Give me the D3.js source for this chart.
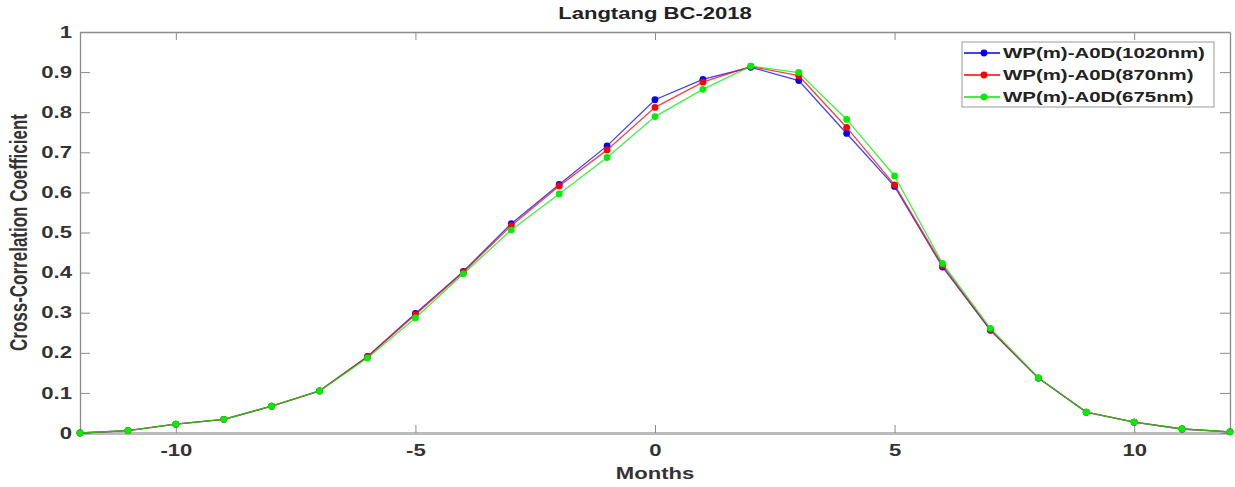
<!DOCTYPE html>
<html>
<head>
<meta charset="utf-8">
<script src="https://cdn.jsdelivr.net/npm/d3@7"></script>
<style>
  body { margin: 0; background: #fff; }
  text { font-family: "Liberation Sans", Arial, sans-serif; font-weight: bold; }
</style>
</head>
<body>
<script>
// lags in months
var months = [-12, -11, -10, -9, -8, -7, -6, -5, -4, -3, -2, -1, 0, 1, 2, 3, 4, 5, 6, 7, 8, 9, 10, 11, 12];

// cross-correlation, one array per wavelength
var aod1020 = [0, 0.006, 0.022, 0.034, 0.067, 0.105, 0.191, 0.298, 0.403, 0.522, 0.620, 0.716, 0.831, 0.882, 0.912, 0.879, 0.747, 0.615, 0.414, 0.256, 0.137, 0.052, 0.027, 0.010, 0.003];
var aod870  = [0, 0.006, 0.022, 0.034, 0.067, 0.105, 0.190, 0.295, 0.401, 0.517, 0.616, 0.706, 0.812, 0.875, 0.914, 0.891, 0.762, 0.619, 0.418, 0.258, 0.137, 0.052, 0.027, 0.010, 0.003];
var aod675  = [0, 0.006, 0.022, 0.034, 0.067, 0.105, 0.187, 0.287, 0.397, 0.506, 0.596, 0.687, 0.789, 0.857, 0.915, 0.899, 0.782, 0.641, 0.423, 0.261, 0.138, 0.052, 0.027, 0.010, 0.003];

var seriesNames = ["WP(m)-A0D(1020nm)", "WP(m)-A0D(870nm)", "WP(m)-A0D(675nm)"];
var seriesColors = ["#0000ff", "#ff0000", "#00ee00"];

var xTicks = [-10, -5, 0, 5, 10];
var yTicks = [0, 0.1, 0.2, 0.3, 0.4, 0.5, 0.6, 0.7, 0.8, 0.9, 1];

var width = 1235, height = 487;
var margin = {left: 80, right: 5, top: 32, bottom: 54};
var stretch = 1.38; // the original picture is wider than tall, text looks stretched

var svg = d3.select("body").append("svg")
    .attr("width", width)
    .attr("height", height);

var x = d3.scaleLinear()
    .domain([-12, 12])
    .range([margin.left, width - margin.right]);

var y = d3.scaleLinear()
    .domain([0, 1])
    .range([height - margin.bottom, margin.top]);

var axisColor = "#8c8c8c";
var labelColor = "#333";

// box with inward ticks, matlab style
function styleAxis(g) {
    g.selectAll(".domain").attr("stroke", axisColor).attr("stroke-width", 1.3);
    g.selectAll(".tick line").attr("stroke", axisColor);
    g.selectAll(".tick text")
        .attr("fill", labelColor)
        .style("font-size", "16px")
        .each(function () {
            var t = d3.select(this);
            var tx = +t.attr("x") || 0, ty = +t.attr("y") || 0;
            t.attr("x", 0).attr("y", 0)
                .attr("transform", "translate(" + tx + "," + ty + ") scale(" + stretch + ",1)");
        });
}

function stretchedText(px, py, str, size, anchor) {
    return svg.append("text")
        .attr("transform", "translate(" + px + "," + py + ") scale(" + stretch + ",1)")
        .attr("text-anchor", anchor || "middle")
        .attr("fill", labelColor)
        .style("font-size", size + "px")
        .text(str);
}

var xAxis = svg.append("g")
    .attr("transform", "translate(0," + y(0) + ")")
    .call(d3.axisBottom(x).tickValues(xTicks).tickSizeInner(-8).tickSizeOuter(0).tickPadding(12)
        .tickFormat(function (d) { return String(d); }));
styleAxis(xAxis);
xAxis.select(".domain").attr("stroke", "#bbb").attr("stroke-width", 3);

var xAxisTop = svg.append("g")
    .attr("transform", "translate(0," + y(1) + ")")
    .call(d3.axisTop(x).tickValues(xTicks).tickSizeInner(-8).tickSizeOuter(0).tickFormat(""));
styleAxis(xAxisTop);

var yAxis = svg.append("g")
    .attr("transform", "translate(" + x(-12) + ",0)")
    .call(d3.axisLeft(y).tickValues(yTicks).tickSizeInner(-10).tickSizeOuter(0).tickPadding(8)
        .tickFormat(function (d) { return d === 0 || d === 1 ? String(d) : d.toFixed(1); }));
styleAxis(yAxis);

var yAxisRight = svg.append("g")
    .attr("transform", "translate(" + x(12) + ",0)")
    .call(d3.axisRight(y).tickValues(yTicks).tickSizeInner(-10).tickSizeOuter(0).tickFormat(""));
styleAxis(yAxisRight);

// series
var allSeries = [aod1020, aod870, aod675];

var line = d3.line()
    .x(function (d, i) { return x(months[i]); })
    .y(function (d) { return y(d); });

allSeries.forEach(function (vals, k) {
    svg.append("path")
        .datum(vals)
        .attr("fill", "none")
        .attr("stroke", seriesColors[k])
        .attr("stroke-opacity", 0.75)
        .attr("stroke-width", 1.3)
        .attr("d", line);

    svg.selectAll(".dot" + k)
        .data(vals)
        .enter()
        .append("circle")
        .attr("class", "dot" + k)
        .attr("cx", function (d, i) { return x(months[i]); })
        .attr("cy", function (d) { return y(d); })
        .attr("r", 3.4)
        .attr("fill", seriesColors[k]);
});

// title + axis labels
stretchedText((x(-12) + x(12)) / 2, 19, "Langtang BC-2018", 16).attr("fill", "#222");
stretchedText((x(-12) + x(12)) / 2, 479, "Months", 16);

svg.append("text")
    .attr("transform", "translate(27," + y(0.5) + ") rotate(-90) scale(1," + stretch + ")")
    .attr("text-anchor", "middle")
    .attr("fill", labelColor)
    .style("font-size", "17px")
    .text("Cross-Correlation Coefficient");

// legend
var legend = svg.append("g").attr("transform", "translate(962,42)");
legend.append("rect")
    .attr("width", 252)
    .attr("height", 65)
    .attr("fill", "#fff")
    .attr("stroke", "#999");

seriesNames.forEach(function (name, k) {
    var ly = 11 + k * 22;
    legend.append("line")
        .attr("x1", 2).attr("x2", 38)
        .attr("y1", ly).attr("y2", ly)
        .attr("stroke", seriesColors[k])
        .attr("stroke-width", 1.3);
    legend.append("circle")
        .attr("cx", 22).attr("cy", ly).attr("r", 3.4)
        .attr("fill", seriesColors[k]);
    legend.append("text")
        .attr("transform", "translate(41," + (ly + 5) + ") scale(" + stretch + ",1)")
        .attr("fill", "#222")
        .style("font-size", "14.8px")
        .text(name);
});
</script>
</body>
</html>
